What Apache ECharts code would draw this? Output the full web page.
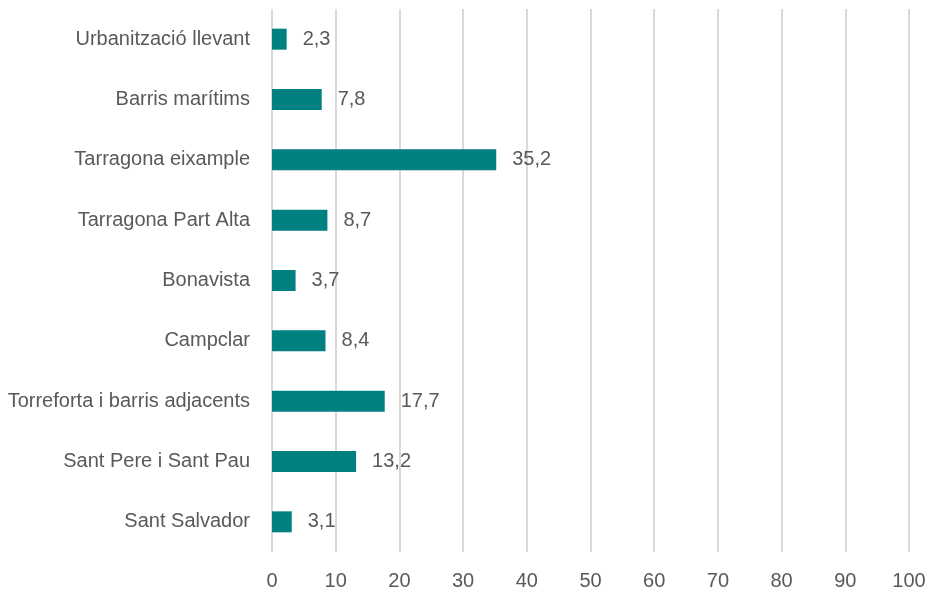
<!DOCTYPE html>
<html>
<head>
<meta charset="utf-8">
<script src="https://cdn.jsdelivr.net/npm/echarts@6/dist/echarts.min.js"></script>
<style>html,body{margin:0;padding:0;background:#fff}#c{width:930px;height:597px}</style>
</head>
<body>
<div id="c"></div>
<script>
const categories = ["Sant Salvador","Sant Pere i Sant Pau","Torreforta i barris adjacents","Campclar","Bonavista","Tarragona Part Alta","Tarragona eixample","Barris marítims","Urbanització llevant"];
const values = [3.1, 13.2, 17.7, 8.4, 3.7, 8.7, 35.2, 7.8, 2.3];
const xTicks = [0,10,20,30,40,50,60,70,80,90,100];

const FONT = '"Liberation Sans Narrow", "Arial Narrow", "Liberation Sans", sans-serif';
const chart = echarts.init(document.getElementById('c'));
chart.setOption({
  animation: false,
  grid: {left: 272, right: 21, top: 9, bottom: 45, containLabel: false},
  xAxis: {
    type: 'value', min: xTicks[0], max: xTicks[xTicks.length-1], interval: 10,
    axisLine: {show: false}, axisTick: {show: false},
    splitLine: {lineStyle: {color: '#d9d9d9', width: 2}},
    axisLabel: {color: '#595959', fontFamily: FONT, fontSize: 20, margin: 19}
  },
  yAxis: {
    type: 'category', data: categories,
    axisLine: {show: false}, axisTick: {show: false},
    axisLabel: {color: '#595959', fontFamily: FONT, fontSize: 20, margin: 22}
  },
  series: [{
    type: 'bar', data: values, barWidth: 21,
    itemStyle: {color: '#008080'},
    label: {show: true, position: 'right', distance: 16, color: '#595959', fontFamily: FONT, fontSize: 20,
      formatter: p => String(p.value).replace('.', ',')}
  }]
});
</script>
</body>
</html>
